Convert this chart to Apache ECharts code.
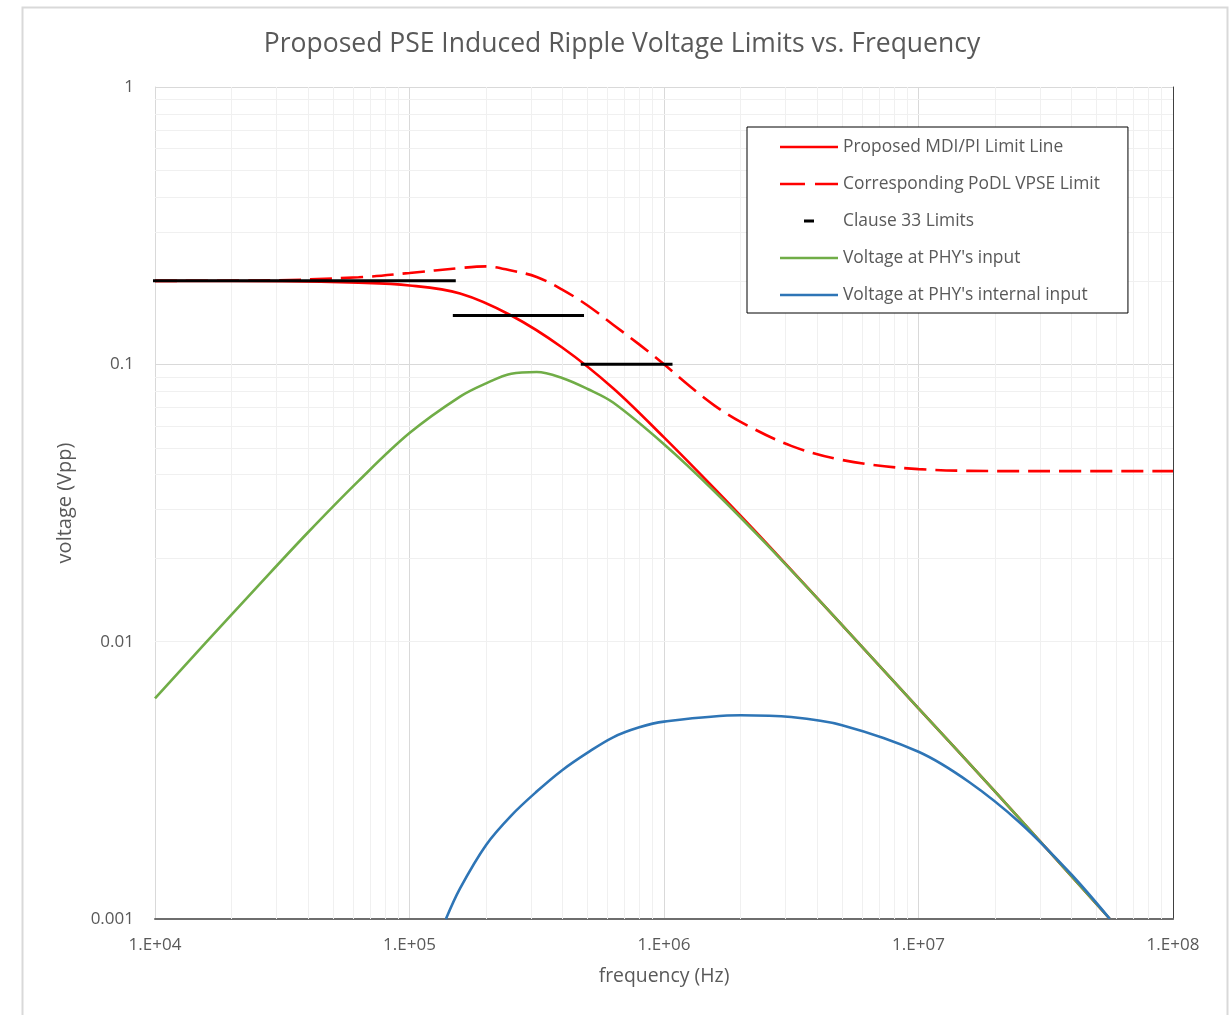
<!DOCTYPE html>
<html>
<head>
<meta charset="utf-8">
<script src="https://cdn.jsdelivr.net/npm/echarts@6/dist/echarts.min.js"></script>
<style>
  html, body { margin: 0; padding: 0; background: #fff; }
  #chart { width: 1230px; height: 1015px; }
</style>
</head>
<body>
<div id="chart"></div>
<script>
// Frequency (Hz) / voltage (Vpp) pairs for each curve
const mdiPiLimit = [
  [1e4, 0.200], [3.16e4, 0.1995], [6.31e4, 0.197], [1e5, 0.1925], [1.58e5, 0.180],
  [2.51e5, 0.150], [3.98e5, 0.115], [6.31e5, 0.082], [1e6, 0.0545],
  [1.58e6, 0.0356], [2.51e6, 0.0228], [5e6, 0.0115], [1e7, 0.00575], [2e7, 0.00288],
  [5.65e7, 0.001]
];
const podlLimit = [
  [1e4, 0.200], [2.51e4, 0.2005], [6.31e4, 0.206], [1e5, 0.2135], [1.58e5, 0.2225],
  [2e5, 0.2255], [2.51e5, 0.218], [3.16e5, 0.2065], [3.98e5, 0.186], [5.01e5, 0.163],
  [6.31e5, 0.139], [7.94e5, 0.1185], [1e6, 0.100], [1.26e6, 0.0835], [1.58e6, 0.071],
  [2e6, 0.0620], [3.16e6, 0.0508], [5.01e6, 0.0452], [1e7, 0.0419], [2.51e7, 0.0412],
  [1e8, 0.0412]
];
const phyInput = [
  [1e4, 0.00625], [1.58e4, 0.0099], [2.51e4, 0.0157], [3.98e4, 0.0247], [6.31e4, 0.0380],
  [1e5, 0.0565], [1.58e5, 0.0765], [2e5, 0.0854], [2.51e5, 0.0925], [3.16e5, 0.0938],
  [3.98e5, 0.0893], [5.01e5, 0.0815], [6.31e5, 0.0728], [1e6, 0.0515], [1.58e6, 0.0348],
  [2.51e6, 0.0226], [5e6, 0.0115], [1e7, 0.00575], [2e7, 0.00288], [5.65e7, 0.001]
];
const phyInternal = [
  [1.39e5, 0.001], [1.58e5, 0.00129], [2e5, 0.00185], [2.51e5, 0.00236], [3.16e5, 0.00288],
  [3.98e5, 0.00344], [5.01e5, 0.00398], [6.31e5, 0.00452], [7.94e5, 0.0049], [1e6, 0.00515],
  [2e6, 0.00543], [3.16e6, 0.00535], [5.01e6, 0.00500], [1e7, 0.00401], [1.58e7, 0.00312],
  [2.51e7, 0.00222], [3.98e7, 0.00145], [5.65e7, 0.001]
];
// Clause 33 step limits: start frequency, end frequency, level
const clause33Start = [9.2e3, 1.48e5, 4.71e5];
const clause33End   = [1.52e5, 4.85e5, 1.08e6];
const clause33Level = [0.2, 0.15, 0.1];

const xTickLabels = ['1.E+04', '1.E+05', '1.E+06', '1.E+07', '1.E+08'];
const yTickLabels = ['0.001', '0.01', '0.1', '1'];

const FONT = 'Open Sans';
const TEXT = '#595959';

// light minor grid at 2..9 of every decade
const minorLines = [];
for (let e = 4; e < 8; e++) for (let k = 2; k <= 9; k++) minorLines.push({ xAxis: k * Math.pow(10, e) });
for (let e = -3; e < 0; e++) for (let k = 2; k <= 9; k++) minorLines.push({ yAxis: k * Math.pow(10, e) });

const decadeLabel = (labels, base) => v => {
  const i = Math.round(Math.log10(v)) - base;
  return labels[i] !== undefined ? labels[i] : '';
};

// legend glyphs (58x14 box; tiny corner squares pin the box size)
const BOX = 'M0,0h0.01v0.01h-0.01zM58,14h-0.01v-0.01h0.01z';
const solidIcon = 'path://M0,5.7h58v2.6h-58z' + BOX;
const dashIcon = 'path://M0,5.7h25v2.6h-25zM35,5.7h23v2.6h-23z' + BOX;
const shortIcon = 'path://M24,5.5h10v3h-10z' + BOX;

const clauseSeries = clause33Level.map((lv, i) => ({
  name: 'Clause 33 Limits',
  type: 'line',
  data: [[clause33Start[i], lv], [clause33End[i], lv]],
  symbol: 'none',
  clip: false,
  lineStyle: { color: '#000', width: 3 },
  itemStyle: { color: '#000', borderWidth: 0 },
  z: 4
}));

const curve = (name, data, color, type) => ({
  name, type: 'line', data,
  symbol: 'none', showSymbol: false,
  smooth: 0.35,
  lineStyle: { color, width: 2.6, type: type || 'solid' },
  itemStyle: { color, borderWidth: 0 }, z: 3
});

const chart = echarts.init(document.getElementById('chart'), null, { renderer: 'canvas' });
chart.setOption({
  animation: false,
  backgroundColor: '#fff',
  textStyle: { fontFamily: FONT },
  title: {
    text: 'Proposed PSE Induced Ripple Voltage Limits vs. Frequency',
    left: 617, top: 26, textAlign: 'center',
    textStyle: { fontFamily: FONT, fontSize: 26.5, fontWeight: 'normal', color: TEXT }
  },
  graphic: [{
    type: 'rect', left: 20, top: 5, silent: true,
    shape: { width: 1205, height: 1030 },
    style: { fill: 'none', stroke: '#d9d9d9', lineWidth: 2 }
  }],
  legend: {
    orient: 'vertical',
    left: 747, top: 127,
    padding: [10, 28, 8, 33],
    itemWidth: 58, itemHeight: 14, itemGap: 17,
    backgroundColor: '#fff',
    borderColor: '#000', borderWidth: 1,
    z: 10,
    itemStyle: { borderWidth: 0 },
    textStyle: { fontFamily: FONT, fontSize: 17.4, color: TEXT, lineHeight: 20 },
    data: [
      { name: 'Proposed MDI/PI Limit Line', icon: solidIcon },
      { name: 'Corresponding PoDL VPSE Limit', icon: dashIcon },
      { name: 'Clause 33 Limits', icon: shortIcon },
      { name: "Voltage at PHY's input", icon: solidIcon },
      { name: "Voltage at PHY's internal input", icon: solidIcon }
    ]
  },
  grid: { left: 155, right: 57, top: 87, bottom: 96, containLabel: false },
  xAxis: {
    type: 'log', logBase: 10, min: 1e4, max: 1e8,
    name: 'frequency (Hz)', nameLocation: 'middle', nameGap: 48,
    nameTextStyle: { fontFamily: FONT, fontSize: 19.4, color: TEXT },
    axisLine: { show: true, lineStyle: { color: '#6e6e6e', width: 2 } },
    axisTick: { show: false },
    axisLabel: { fontFamily: FONT, fontSize: 17, color: TEXT, margin: 18,
      formatter: decadeLabel(xTickLabels, 4), showMinLabel: true, showMaxLabel: true },
    splitLine: { show: true, lineStyle: { color: '#d9d9d9', width: 1 } }
  },
  yAxis: [{
    type: 'log', logBase: 10, min: 0.001, max: 1,
    name: 'voltage (Vpp)', nameLocation: 'middle', nameGap: 80, nameRotate: 90,
    nameTextStyle: { fontFamily: FONT, fontSize: 20, color: TEXT },
    axisLine: { show: true, lineStyle: { color: '#d9d9d9', width: 1 } },
    axisTick: { show: false },
    axisLabel: { fontFamily: FONT, fontSize: 17, color: TEXT, margin: 21,
      formatter: decadeLabel(yTickLabels, -3), showMinLabel: true, showMaxLabel: true },
    splitLine: { show: true, lineStyle: { color: '#d9d9d9', width: 1 } }
  }, {
    type: 'log', logBase: 10, min: 0.001, max: 1, position: 'right',
    axisLine: { show: true, onZero: false, lineStyle: { color: '#404040', width: 1 } },
    axisTick: { show: false }, axisLabel: { show: false }, splitLine: { show: false }
  }],
  series: [
    {
      name: 'minor-grid', type: 'line', data: [[1e4, 1]], symbol: 'none',
      lineStyle: { opacity: 0 }, silent: true, z: 1,
      markLine: {
        silent: true, z: 1, symbol: ['none', 'none'], label: { show: false },
        lineStyle: { color: '#f0f0f0', width: 1, type: 'solid' },
        emphasis: { disabled: true },
        data: minorLines
      }
    },
    curve('Proposed MDI/PI Limit Line', mdiPiLimit, '#ff0000'),
    curve('Corresponding PoDL VPSE Limit', podlLimit, '#ff0000', [22, 9]),
    ...clauseSeries,
    curve("Voltage at PHY's input", phyInput, '#70ad47'),
    curve("Voltage at PHY's internal input", phyInternal, '#2e75b6')
  ]
});
</script>
</body>
</html>
